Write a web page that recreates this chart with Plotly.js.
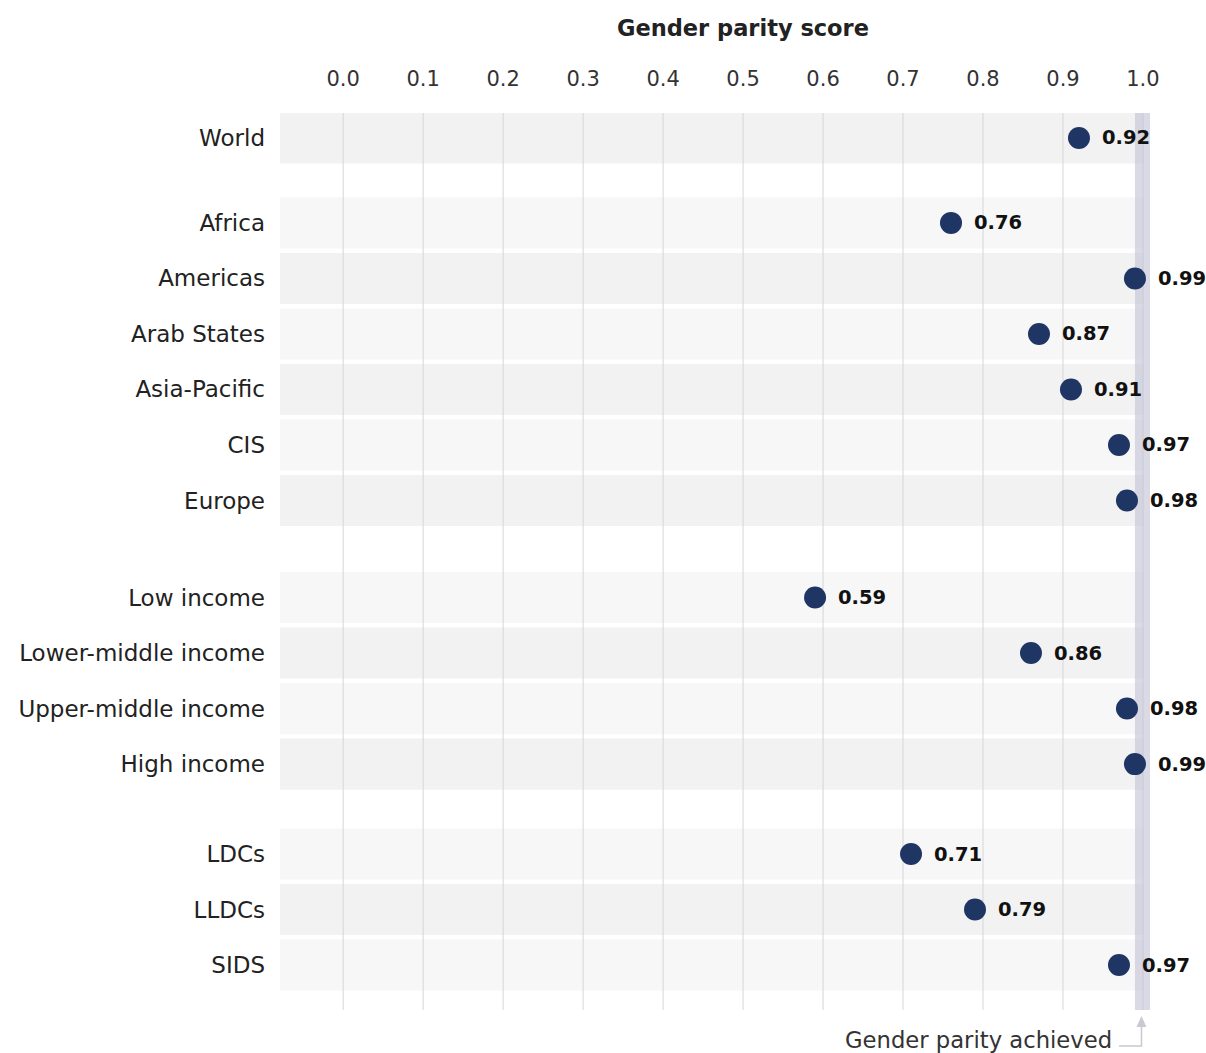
<!DOCTYPE html>
<html>
<head>
<meta charset="utf-8">
<script src="https://cdn.plot.ly/plotly-3.0.1.min.js"></script>
<style>html,body{margin:0;padding:0;background:#fff;}#chart{width:1206px;height:1053px;}</style>
</head>
<body>
<div id="chart"></div>
<script>
// ---- data ----
const categories = ['World','Africa','Americas','Arab States','Asia-Pacific','CIS','Europe',
  'Low income','Lower-middle income','Upper-middle income','High income','LDCs','LLDCs','SIDS'];
const scores = [0.92,0.76,0.99,0.87,0.91,0.97,0.98,0.59,0.86,0.98,0.99,0.71,0.79,0.97];
const groups = [0,1,1,1,1,1,1,2,2,2,2,3,3,3];
const xTickVals = [0,0.1,0.2,0.3,0.4,0.5,0.6,0.7,0.8,0.9,1.0];
const noteText = 'Gender parity achieved';
const axisTitle = 'Gender parity score';

// ---- layout helpers ----
const groupExtra = [0, 0.53, 0.75, 0.62];
const rowPos = [];
let cur = 0;
categories.forEach((c, i) => {
  if (i > 0) {
    cur += 1;
    if (groups[i] !== groups[i-1]) cur += groupExtra[groups[i]];
  }
  rowPos.push(cur);
});
const Y_TOP = -0.45, Y_BOT = 15.71;

const FONT = '"DejaVu Sans", sans-serif';
const shapes = [];
rowPos.forEach((p, i) => {
  shapes.push({type:'rect', xref:'x', yref:'y', layer:'below',
    x0:-0.079, x1:1.001, y0:p-0.46, y1:p+0.46,
    fillcolor: i % 2 === 0 ? '#f2f2f2' : '#f7f7f7', line:{width:0}});
});
// vertical gridlines
xTickVals.forEach(v => {
  shapes.push({type:'line', xref:'x', yref:'y', layer:'below',
    x0:v, x1:v, y0:Y_TOP, y1:Y_BOT, line:{color:'#d6d6d6', width:1}});
});
// parity strip
shapes.push({type:'rect', xref:'x', yref:'y', layer:'below',
  x0:0.99, x1:1.01, y0:Y_TOP, y1:Y_BOT, fillcolor:'rgba(196,193,214,0.62)', line:{width:0}});
// note connector
shapes.push({type:'path', xref:'paper', yref:'paper', layer:'above',
  path:'M 0.9644 -0.0401 L 0.9902 -0.0401 L 0.9902 -0.0180',
  line:{color:'#c9c8d3', width:1.5}});
shapes.push({type:'path', xref:'paper', yref:'paper', layer:'above',
  path:'M 0.9845 -0.0190 L 0.9959 -0.0190 L 0.9902 -0.0067 Z',
  fillcolor:'#c9c8d3', line:{width:0}});

const trace = {
  type:'scatter', mode:'markers',
  x: scores, y: rowPos,
  marker:{size:22, color:'#1f3564'},
  cliponaxis:false, hoverinfo:'skip', showlegend:false
};

const valueLabels = scores.map((v, i) => ({
  text:'<b>'+v.toFixed(2)+'</b>', xref:'x', yref:'y', x:v, y:rowPos[i],
  xanchor:'left', yanchor:'middle', xshift:21, showarrow:false,
  font:{family:FONT, size:19.5, color:'#111'}
}));

const layout = {
  width:1206, height:1053,
  margin:{l:280, r:56, t:113, b:43},
  paper_bgcolor:'#fff', plot_bgcolor:'rgba(0,0,0,0)',
  font:{family:FONT, color:'#222'},
  xaxis:{side:'top', range:[-0.079, 1.0088], tickvals:xTickVals,
    tickformat:'.1f', showgrid:false,
    zeroline:false, showline:false, ticks:'', ticklabelstandoff:22,
    tickfont:{family:FONT, size:21, color:'#333'}, fixedrange:true},
  yaxis:{range:[Y_BOT, Y_TOP], tickvals:rowPos, ticktext:categories,
    showgrid:false, zeroline:false, showline:false, ticks:'',
    ticklabelstandoff:14, tickfont:{family:FONT, size:23, color:'#222'}, fixedrange:true},
  shapes: shapes,
  annotations:[
    {text:'<b>'+axisTitle+'</b>', xref:'x', yref:'paper', x:0.5, y:1.0948,
     xanchor:'center', yanchor:'middle', showarrow:false,
     font:{family:FONT, size:22.5, color:'#222'}},
    {text:noteText, xref:'paper', yref:'paper', x:0.959, y:-0.0334,
     xanchor:'right', yanchor:'middle', showarrow:false,
     font:{family:FONT, size:22.7, color:'#333'}}
  ].concat(valueLabels)
};
Plotly.newPlot('chart', [trace], layout, {displayModeBar:false, staticPlot:true});
</script>
</body>
</html>
